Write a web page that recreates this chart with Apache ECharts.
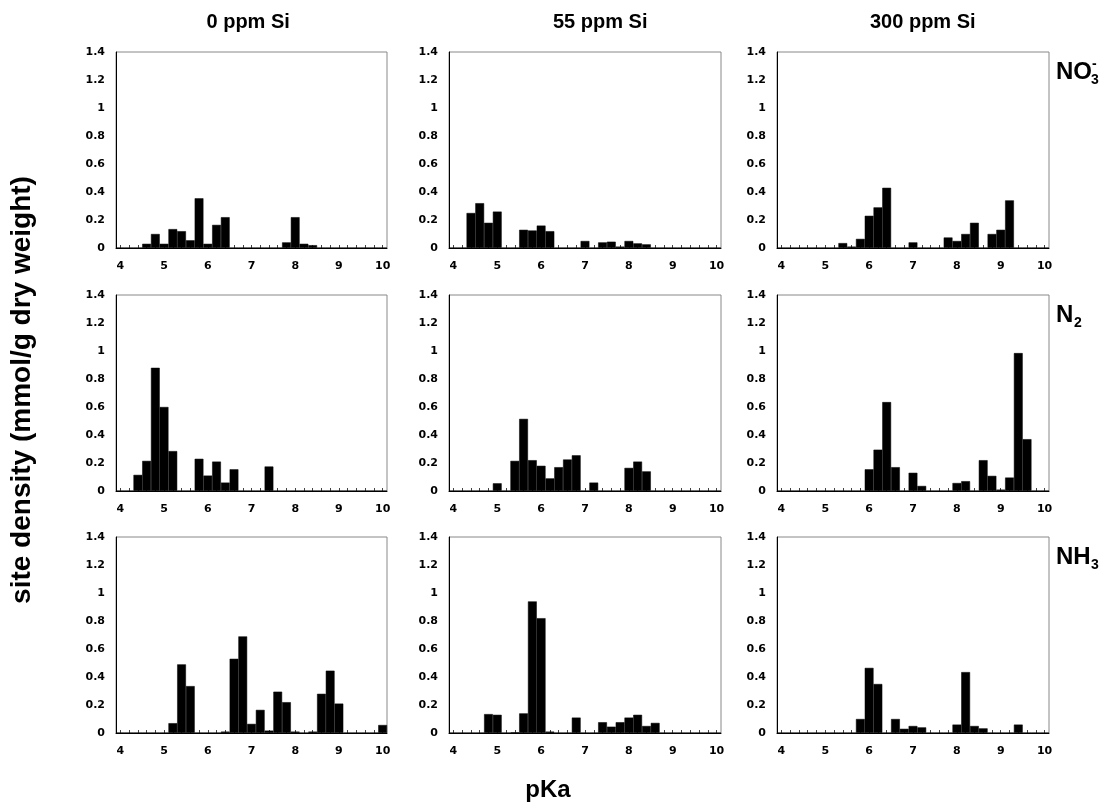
<!DOCTYPE html>
<html>
<head>
<meta charset="utf-8">
<script src="https://cdn.jsdelivr.net/npm/echarts@6/dist/echarts.min.js"></script>
<style>
html,body{margin:0;padding:0;background:#fff;}
#c{width:1119px;height:808px;}
</style>
</head>
<body>
<div id="c"></div>
<script>
// pKa bins (categories)
const pKaBins = ['4.0','4.2','4.4','4.6','4.8','5.0','5.2','5.4','5.6','5.8','6.0','6.2','6.4','6.6','6.8','7.0','7.2','7.4','7.6','7.8','8.0','8.2','8.4','8.6','8.8','9.0','9.2','9.4','9.6','9.8','10.0'];
const yTicks = [0, 0.2, 0.4, 0.6, 0.8, 1, 1.2, 1.4];
const colTitles = ['0 ppm Si', '55 ppm Si', '300 ppm Si'];
const rowLabels = ['NO3-', 'N2', 'NH3'];

// site density (mmol/g dry weight)
const no3_0   = [0,0,0,0.03,0.10,0.03,0.135,0.12,0.055,0.355,0.03,0.165,0.22,0,0,0,0,0,0,0.04,0.22,0.03,0.02,0,0,0,0,0,0,0,0];
const no3_55  = [0,0,0.25,0.32,0.18,0.26,0,0,0.13,0.125,0.16,0.12,0,0,0,0.05,0,0.04,0.045,0.01,0.05,0.033,0.026,0,0,0,0,0,0,0,0];
const no3_300 = [0,0,0,0,0,0,0,0.035,0.01,0.065,0.23,0.29,0.43,0,0,0.04,0,0,0,0.075,0.05,0.1,0.18,0,0.1,0.13,0.34,0,0,0,0];
const n2_0    = [0,0,0.115,0.215,0.88,0.6,0.285,0,0,0.23,0.11,0.21,0.06,0.155,0,0,0,0.175,0,0,0,0,0,0,0,0,0,0,0,0,0];
const n2_55   = [0,0,0,0,0,0.055,0,0.215,0.515,0.22,0.18,0.09,0.17,0.225,0.255,0,0.06,0,0,0,0.165,0.21,0.14,0,0,0,0,0,0,0,0];
const n2_300  = [0,0,0,0,0,0,0,0,0,0,0.155,0.295,0.635,0.17,0,0.13,0.036,0,0,0,0.057,0.07,0,0.22,0.108,0.01,0.096,0.985,0.37,0,0];
const nh3_0   = [0,0,0,0,0,0,0.07,0.49,0.335,0,0,0,0.01,0.53,0.69,0.065,0.165,0.017,0.295,0.22,0.01,0,0.01,0.28,0.445,0.21,0,0,0,0,0.057];
const nh3_55  = [0,0,0,0,0.135,0.13,0,0.005,0.14,0.94,0.82,0.01,0,0,0.11,0,0,0.077,0.045,0.077,0.11,0.13,0.05,0.072,0,0,0,0,0,0,0];
const nh3_300 = [0,0,0,0,0,0,0,0,0,0.1,0.465,0.35,0,0.1,0.03,0.05,0.04,0,0,0,0.06,0.435,0.05,0.033,0,0,0,0.06,0,0,0];

const panels = [
  [no3_0, no3_55, no3_300],
  [n2_0, n2_55, n2_300],
  [nh3_0, nh3_55, nh3_300]
];

const colLeft = [116, 449, 777];
const colWidth = [271, 272, 272];
const rowTop = [52, 295, 537];
const plotH = 196;

const tickFont = {fontFamily: 'DejaVu Sans', fontWeight: 'bold', fontSize: 11, color: '#000'};

const grids = [], xAxes = [], yAxes = [], series = [];
let gi = 0;
for (let r = 0; r < 3; r++) {
  for (let c = 0; c < 3; c++) {
    grids.push({left: colLeft[c], top: rowTop[r], width: colWidth[c], height: plotH,
      show: true, borderColor: '#888', borderWidth: 1, backgroundColor: 'transparent'});
    xAxes.push({type: 'category', gridIndex: gi, data: pKaBins, boundaryGap: true,
      axisLine: {show: true, lineStyle: {color: '#000', width: 1}},
      axisTick: {show: true, inside: true, length: 3, interval: 0, alignWithLabel: true, lineStyle: {color: '#444'}},
      axisLabel: Object.assign({interval: function (i) { return i % 5 === 0; }, margin: 13,
        formatter: function (v) { return String(parseInt(v, 10)); }}, tickFont),
      splitLine: {show: false}});
    yAxes.push({type: 'value', gridIndex: gi, min: 0, max: 1.4, interval: 0.2,
      axisLine: {show: true, lineStyle: {color: '#000', width: 1}},
      axisTick: {show: false},
      axisLabel: Object.assign({margin: 11}, tickFont),
      splitLine: {show: false}});
    series.push({type: 'bar', xAxisIndex: gi, yAxisIndex: gi, data: panels[r][c],
      barCategoryGap: '0%', itemStyle: {color: '#000', borderColor: '#000', borderWidth: 0.5},
      silent: true, animation: false});
    gi++;
  }
}

const graphics = [];
const titleShift = [-45, -32, -43];
for (let c = 0; c < 3; c++) {
  graphics.push({type: 'text', left: colLeft[c] + colWidth[c] / 2 + titleShift[c], top: 12,
    style: {text: colTitles[c], font: 'bold 20px "Liberation Sans", Arial, sans-serif', fill: '#000'}});
}
graphics.push({type: 'text', x: 22, y: 390, rotation: Math.PI / 2, origin: [0, 0],
  style: {text: 'site density (mmol/g dry weight)', font: 'bold 28px "Liberation Sans", Arial, sans-serif',
    fill: '#000', textAlign: 'center', textVerticalAlign: 'middle'}});
graphics.push({type: 'text', x: 548, y: 790,
  style: {text: 'pKa', font: 'bold 24px "Liberation Sans", Arial, sans-serif', fill: '#000',
    textAlign: 'center', textVerticalAlign: 'middle'}});

// row labels with sub/superscripts
const rowRich = [
  ['N', 'O', '3', '-'],
  ['N', '', '2', ''],
  ['N', 'H', '3', '']
];
const rowY = [60, 303, 545];
for (let r = 0; r < 3; r++) {
  const base = rowRich[r][0] + rowRich[r][1];
  graphics.push({type: 'text', x: 1056, y: rowY[r],
    style: {text: base, font: 'bold 24px "Liberation Sans", Arial, sans-serif', fill: '#000'}});
  const bw = r === 1 ? 18 : 35;
  graphics.push({type: 'text', x: 1056 + bw, y: rowY[r] + 13,
    style: {text: rowRich[r][2], font: 'bold 14px "Liberation Sans", Arial, sans-serif', fill: '#000'}});
  if (rowRich[r][3]) {
    graphics.push({type: 'text', x: 1056 + bw + 1, y: rowY[r] - 3,
      style: {text: rowRich[r][3], font: 'bold 14px "Liberation Sans", Arial, sans-serif', fill: '#000'}});
  }
}

const chart = echarts.init(document.getElementById('c'), null, {renderer: 'canvas'});
chart.setOption({
  animation: false,
  backgroundColor: '#fff',
  grid: grids,
  xAxis: xAxes,
  yAxis: yAxes,
  series: series,
  graphic: graphics
});
</script>
</body>
</html>
